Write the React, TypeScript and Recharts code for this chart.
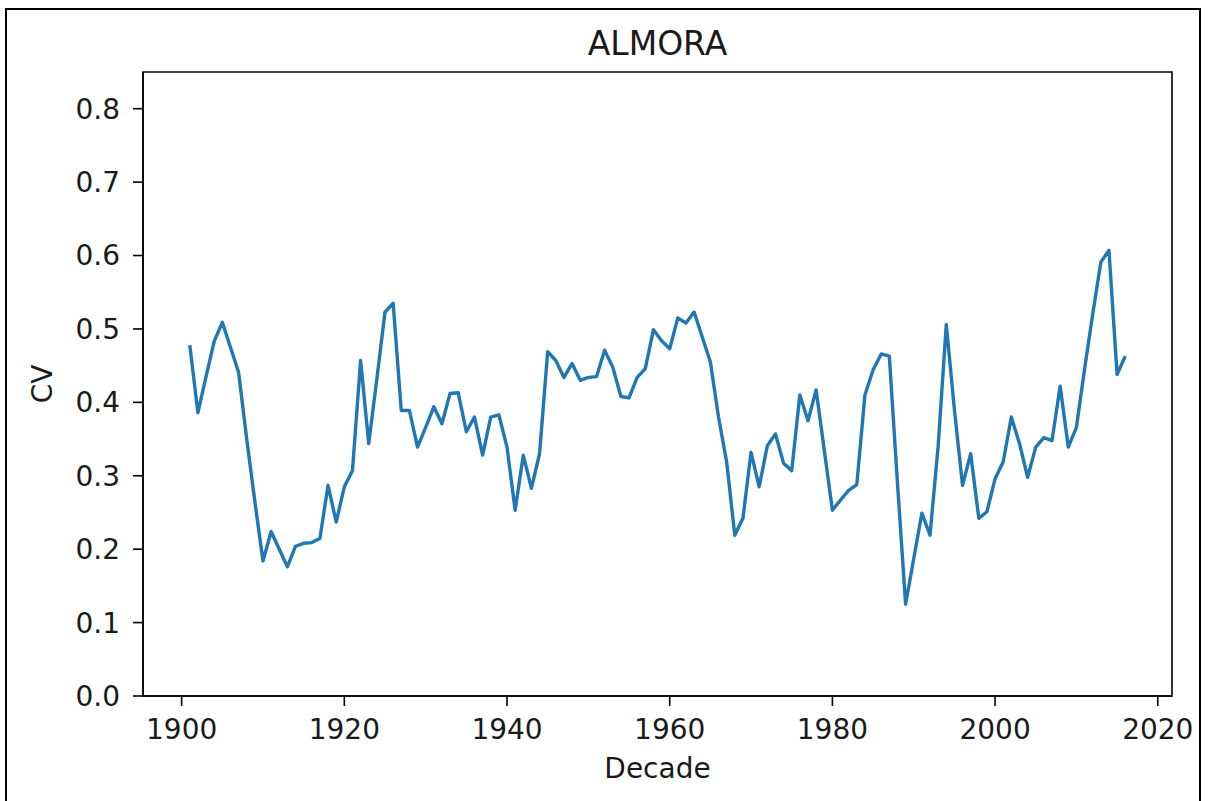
import React from 'react';
import { LineChart, Line, XAxis, YAxis, ReferenceArea } from 'recharts';

const years: number[] = [
  1901, 1902, 1903, 1904, 1905, 1906, 1907, 1908, 1909, 1910,
  1911, 1912, 1913, 1914, 1915, 1916, 1917, 1918, 1919, 1920,
  1921, 1922, 1923, 1924, 1925, 1926, 1927, 1928, 1929, 1930,
  1931, 1932, 1933, 1934, 1935, 1936, 1937, 1938, 1939, 1940,
  1941, 1942, 1943, 1944, 1945, 1946, 1947, 1948, 1949, 1950,
  1951, 1952, 1953, 1954, 1955, 1956, 1957, 1958, 1959, 1960,
  1961, 1962, 1963, 1964, 1965, 1966, 1967, 1968, 1969, 1970,
  1971, 1972, 1973, 1974, 1975, 1976, 1977, 1978, 1979, 1980,
  1981, 1982, 1983, 1984, 1985, 1986, 1987, 1988, 1989, 1990,
  1991, 1992, 1993, 1994, 1995, 1996, 1997, 1998, 1999, 2000,
  2001, 2002, 2003, 2004, 2005, 2006, 2007, 2008, 2009, 2010,
  2011, 2012, 2013, 2014, 2015, 2016,
];

const cvValues: number[] = [
  0.478, 0.386, 0.435, 0.483, 0.509, 0.475, 0.441, 0.350, 0.265, 0.184,
  0.224, 0.200, 0.176, 0.204, 0.208, 0.209, 0.215, 0.287, 0.237, 0.285,
  0.307, 0.457, 0.344, 0.432, 0.523, 0.535, 0.389, 0.389, 0.339, 0.366,
  0.394, 0.371, 0.412, 0.413, 0.360, 0.380, 0.328, 0.380, 0.383, 0.339,
  0.253, 0.328, 0.283, 0.330, 0.469, 0.457, 0.434, 0.453, 0.430, 0.434,
  0.435, 0.471, 0.448, 0.408, 0.406, 0.434, 0.446, 0.499, 0.484, 0.473,
  0.515, 0.508, 0.523, 0.489, 0.455, 0.380, 0.319, 0.219, 0.242, 0.332,
  0.285, 0.341, 0.357, 0.317, 0.307, 0.410, 0.375, 0.417, 0.335, 0.253,
  0.267, 0.280, 0.288, 0.410, 0.444, 0.466, 0.463, 0.290, 0.125, 0.187,
  0.249, 0.219, 0.340, 0.506, 0.390, 0.287, 0.330, 0.242, 0.251, 0.296,
  0.319, 0.380, 0.344, 0.298, 0.339, 0.352, 0.348, 0.422, 0.339, 0.366,
  0.445, 0.520, 0.591, 0.607, 0.438, 0.463,
];

const xTicks: number[] = [1900, 1920, 1940, 1960, 1980, 2000, 2020];
const yTicks: number[] = [0.0, 0.1, 0.2, 0.3, 0.4, 0.5, 0.6, 0.7, 0.8];
const xDomain: [number, number] = [1895.25, 2021.75];
const yDomain: [number, number] = [0, 0.85];

const titleText = 'ALMORA';
const xLabelText = 'Decade';
const yLabelText = 'CV';

const data = years.map((year, i) => ({ year, cv: cvValues[i] }));

const FONT = "'DejaVu Sans', sans-serif";
const TEXT_COLOR = '#1a1a1a';

const XLabel = (props: any) => {
  const vb = props.viewBox || {};
  return (
    <text
      x={vb.x + vb.width / 2}
      y={vb.y + 82}
      textAnchor="middle"
      fontFamily={FONT}
      fontSize={28}
      fill={TEXT_COLOR}
    >
      {xLabelText}
    </text>
  );
};

const YLabel = (props: any) => {
  const vb = props.viewBox || {};
  const cx = vb.x - 21;
  const cy = vb.y + vb.height / 2;
  return (
    <text
      x={cx}
      y={cy}
      transform={`rotate(-90 ${cx} ${cy})`}
      textAnchor="middle"
      dominantBaseline="central"
      fontFamily={FONT}
      fontSize={28}
      fill={TEXT_COLOR}
    >
      {yLabelText}
    </text>
  );
};

const axisStyle = { stroke: '#000', strokeWidth: 1.6 };
const tickStyle = { fill: TEXT_COLOR, fontSize: 28, fontFamily: FONT };

export default function App() {
  return (
    <div
      style={{
        position: 'absolute',
        left: 0,
        top: 0,
        width: 1215,
        height: 801,
        background: '#fff',
        overflow: 'hidden',
      }}
    >
      <div
        style={{
          position: 'absolute',
          left: 5,
          top: 8,
          width: 1196,
          height: 820,
          border: '2px solid #000',
          boxSizing: 'border-box',
        }}
      />
      <svg
        width={1215}
        height={80}
        style={{ position: 'absolute', left: 0, top: 0 }}
      >
        <text
          x={657.5}
          y={55}
          textAnchor="middle"
          fontFamily={FONT}
          fontSize={33}
          fill={TEXT_COLOR}
        >
          {titleText}
        </text>
      </svg>
      <div style={{ position: 'absolute', left: 0, top: 0 }}>
        <LineChart
          width={1215}
          height={801}
          data={data}
          margin={{ top: 72, right: 43, bottom: 25, left: 63 }}
        >
          <XAxis
            xAxisId="bottom"
            dataKey="year"
            type="number"
            domain={xDomain}
            allowDataOverflow
            ticks={xTicks}
            height={80}
            axisLine={axisStyle}
            tickLine={axisStyle}
            tickSize={10}
            tickMargin={13}
            tick={tickStyle}
            label={<XLabel />}
          />
          <YAxis
            yAxisId="left"
            type="number"
            domain={yDomain}
            allowDataOverflow
            ticks={yTicks}
            width={80}
            axisLine={axisStyle}
            tickLine={axisStyle}
            tickSize={10}
            tickMargin={13}
            tick={tickStyle}
            tickFormatter={(v: number) => v.toFixed(1)}
            label={<YLabel />}
          />
          <ReferenceArea
            xAxisId="bottom"
            yAxisId="left"
            x1={xDomain[0]}
            x2={xDomain[1]}
            y1={yDomain[0]}
            y2={yDomain[1]}
            fill="none"
            fillOpacity={0}
            stroke="#000"
            strokeWidth={1.6}
            ifOverflow="visible"
          />
          <Line
            xAxisId="bottom"
            yAxisId="left"
            type="linear"
            dataKey="cv"
            stroke="#1f77b4"
            strokeWidth={3.4}
            dot={false}
            activeDot={false}
            isAnimationActive={false}
            strokeLinejoin="round"
            strokeLinecap="butt"
          />
        </LineChart>
      </div>
    </div>
  );
}
